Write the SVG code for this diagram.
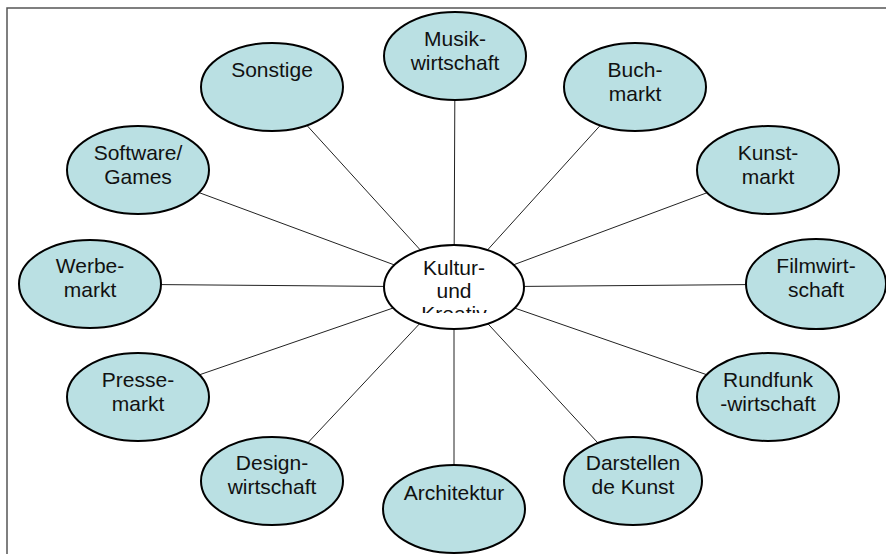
<svg xmlns="http://www.w3.org/2000/svg" width="886" height="554" viewBox="0 0 886 554">
<style>
.n ellipse{fill:#BAE0E3;stroke:#000;stroke-width:2}
.c ellipse{fill:#fff;stroke:#000;stroke-width:2}
text{font-family:"Liberation Sans",Arial,sans-serif;font-size:21px;fill:#111;text-anchor:middle}
#connectors line{stroke:#222;stroke-width:1}
</style>
<defs>
<clipPath id="kc"><rect x="380" y="240" width="150" height="73"/></clipPath>
</defs>
<rect width="886" height="554" fill="#fff"/>
<path d="M7,554 V8 H886" fill="none" stroke="#555" stroke-width="1.5"/>
<g id="connectors">
<line x1="454" y1="287" x2="455" y2="57"/>
<line x1="454" y1="287" x2="635" y2="87"/>
<line x1="454" y1="287" x2="768" y2="170"/>
<line x1="454" y1="287" x2="816" y2="284"/>
<line x1="454" y1="287" x2="768" y2="396"/>
<line x1="454" y1="287" x2="633" y2="481"/>
<line x1="454" y1="287" x2="454" y2="509"/>
<line x1="454" y1="287" x2="272" y2="481"/>
<line x1="454" y1="287" x2="138" y2="396"/>
<line x1="454" y1="287" x2="90" y2="284"/>
<line x1="454" y1="287" x2="138" y2="170"/>
<line x1="454" y1="287" x2="272" y2="87"/>
</g>
<g id="musik" class="n"><ellipse cx="455" cy="56" rx="71" ry="44"/><text x="455" y="46">Musik-</text><text x="455" y="70">wirtschaft</text></g>
<g id="buch" class="n"><ellipse cx="635" cy="87" rx="71" ry="44"/><text x="635" y="77">Buch-</text><text x="635" y="101">markt</text></g>
<g id="kunst" class="n"><ellipse cx="768" cy="170" rx="71" ry="44"/><text x="768" y="160">Kunst-</text><text x="768" y="184">markt</text></g>
<g id="film" class="n"><ellipse cx="816" cy="284" rx="70" ry="45"/><text x="816" y="273">Filmwirt-</text><text x="816" y="297">schaft</text></g>
<g id="rundfunk" class="n"><ellipse cx="768" cy="397" rx="71" ry="44"/><text x="768" y="387">Rundfunk</text><text x="768" y="411">-wirtschaft</text></g>
<g id="darstellen" class="n"><ellipse cx="633" cy="481" rx="69" ry="44"/><text x="633" y="470">Darstellen</text><text x="633" y="494">de Kunst</text></g>
<g id="architektur" class="n"><ellipse cx="454" cy="509" rx="71" ry="44"/><text x="454" y="500">Architektur</text></g>
<g id="design" class="n"><ellipse cx="272" cy="481" rx="71" ry="44"/><text x="272" y="470">Design-</text><text x="272" y="494">wirtschaft</text></g>
<g id="presse" class="n"><ellipse cx="138" cy="397" rx="71" ry="44"/><text x="138" y="387">Presse-</text><text x="138" y="411">markt</text></g>
<g id="werbe" class="n"><ellipse cx="90" cy="284" rx="71" ry="44"/><text x="90" y="273">Werbe-</text><text x="90" y="297">markt</text></g>
<g id="software" class="n"><ellipse cx="138" cy="170" rx="71" ry="44"/><text x="138" y="160">Software/</text><text x="138" y="184">Games</text></g>
<g id="sonstige" class="n"><ellipse cx="272" cy="87" rx="71" ry="44"/><text x="272" y="77">Sonstige</text></g>
<g id="kultur" class="c"><ellipse cx="454" cy="287" rx="70" ry="42"/><g clip-path="url(#kc)"><text x="454" y="275">Kultur-</text><text x="454" y="298">und</text><text x="454" y="321">Kreativ</text></g></g>
</svg>
